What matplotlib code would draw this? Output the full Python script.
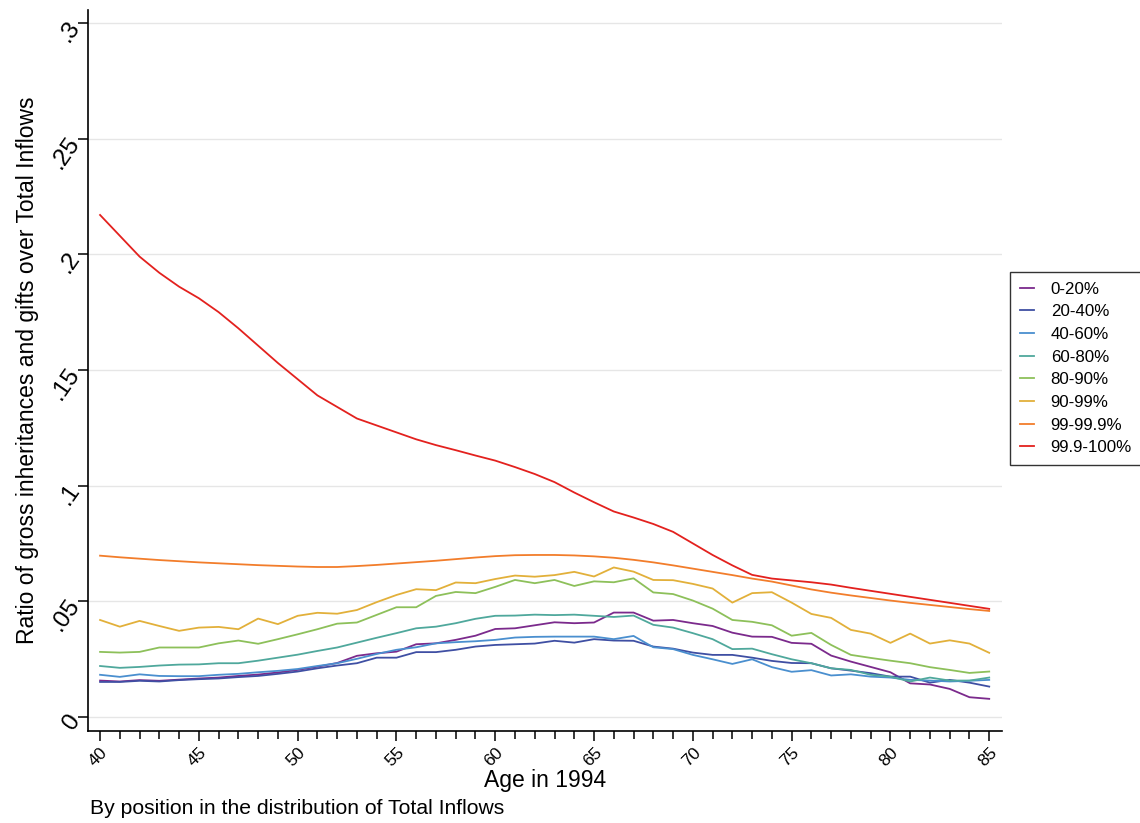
import matplotlib
matplotlib.use("Agg")
import matplotlib.pyplot as plt
from matplotlib.ticker import MultipleLocator

plt.rcParams['font.family'] = ['Liberation Sans', 'DejaVu Sans']

ages = list(range(40, 86))

groups = ["0-20%", "20-40%", "40-60%", "60-80%", "80-90%", "90-99%", "99-99.9%", "99.9-100%"]
colors = ["#7B2A8C", "#3F4FA3", "#4A8FCF", "#4FA89C", "#8DC05A", "#E2B03A", "#F27D2B", "#E3211E"]

p0_20 = [.0157, .0153, .0159, .0156, .0161, .0166, .0170, .0177, .0183, .0192,
         .0203, .0217, .0233, .0264, .0275, .0282, .0314, .0318, .0333, .0351,
         .0380, .0383, .0396, .0409, .0405, .0408, .0451, .0451, .0416, .0419,
         .0405, .0393, .0364, .0347, .0346, .0320, .0316, .0265, .0239, .0216,
         .0193, .0145, .0140, .0121, .0085, .0078]
p20_40 = [.0151, .0151, .0156, .0153, .0159, .0163, .0166, .0172, .0177, .0186,
          .0196, .0210, .0222, .0232, .0256, .0256, .0280, .0280, .0290, .0304,
          .0311, .0314, .0317, .0329, .0321, .0336, .0330, .0329, .0304, .0295,
          .0278, .0268, .0268, .0256, .0242, .0233, .0232, .0210, .0200, .0189,
          .0174, .0174, .0148, .0160, .0148, .0131]
p40_60 = [.0182, .0173, .0184, .0177, .0176, .0176, .0182, .0186, .0193, .0199,
          .0207, .0220, .0232, .0251, .0272, .0290, .0301, .0318, .0323, .0327,
          .0333, .0343, .0346, .0347, .0347, .0347, .0336, .0350, .0301, .0293,
          .0268, .0249, .0229, .0249, .0215, .0195, .0202, .0179, .0184, .0174,
          .0170, .0160, .0157, .0153, .0156, .0160]
p60_80 = [.0220, .0212, .0216, .0222, .0226, .0227, .0232, .0232, .0243, .0256,
          .0269, .0285, .0300, .0321, .0342, .0362, .0383, .0390, .0405, .0424,
          .0437, .0438, .0442, .0440, .0442, .0437, .0432, .0438, .0398, .0386,
          .0362, .0336, .0293, .0295, .0271, .0249, .0232, .0210, .0203, .0182,
          .0174, .0153, .0170, .0157, .0157, .0170]
p80_90 = [.0281, .0278, .0281, .0300, .0300, .0300, .0318, .0330, .0316, .0336,
          .0357, .0379, .0403, .0408, .0441, .0474, .0474, .0523, .0540, .0535,
          .0562, .0592, .0578, .0592, .0566, .0586, .0582, .0599, .0538, .0531,
          .0503, .0468, .0419, .0411, .0396, .0351, .0363, .0311, .0268, .0255,
          .0243, .0232, .0215, .0203, .0190, .0196]
p90_99 = [.0419, .0390, .0415, .0393, .0372, .0386, .0389, .0379, .0425, .0401,
          .0437, .0450, .0446, .0462, .0496, .0527, .0552, .0548, .0581, .0578,
          .0596, .0611, .0606, .0613, .0627, .0607, .0646, .0628, .0592, .0591,
          .0575, .0555, .0494, .0535, .0539, .0494, .0445, .0428, .0376, .0360,
          .0320, .0360, .0317, .0331, .0317, .0277]
p99_999 = [.0697, .0690, .0684, .0678, .0673, .0668, .0664, .0660, .0656, .0653,
           .0650, .0648, .0648, .0652, .0657, .0663, .0669, .0675, .0682, .0689,
           .0695, .0699, .0700, .0700, .0698, .0694, .0688, .0679, .0668, .0655,
           .0641, .0627, .0613, .0598, .0585, .0568, .0551, .0537, .0525, .0514,
           .0503, .0493, .0484, .0475, .0466, .0458]
p999_100 = [.2170, .2080, .1990, .1920, .1860, .1810, .1750, .1680, .1605, .1530,
            .1460, .1390, .1340, .1290, .1260, .1230, .1200, .1175, .1153, .1130,
            .1108, .1080, .1050, .1015, .0970, .0928, .0888, .0862, .0834, .0800,
            .0750, .0700, .0655, .0614, .0598, .0590, .0582, .0572, .0558, .0545,
            .0532, .0519, .0506, .0493, .0480, .0467]

series = [p0_20, p20_40, p40_60, p60_80, p80_90, p90_99, p99_999, p999_100]

y_ticks = [0, .05, .1, .15, .2, .25, .3]
y_tick_labels = ["0", ".05", ".1", ".15", ".2", ".25", ".3"]
x_ticks = list(range(40, 90, 5))

fig = plt.figure(figsize=(11.4, 8.23), dpi=100)
ax = fig.add_axes([0.0772, 0.1118, 0.8018, 0.876])

for ys, c, lab in zip(series, colors, groups):
    ax.plot(ages, ys, color=c, lw=1.3, label=lab, solid_joinstyle='round')

ax.set_xlim(39.39, 85.65)
ax.set_ylim(-0.0061, 0.3056)

ax.set_yticks(y_ticks)
ax.set_yticklabels(y_tick_labels, rotation=55, fontsize=17.5, va='center', ha='right',
                   rotation_mode='anchor')
ax.set_xticks(x_ticks)
ax.set_xticklabels([str(t) for t in x_ticks], rotation=45, fontsize=12.5, ha='right', va='top',
                   rotation_mode='anchor')
ax.xaxis.set_minor_locator(MultipleLocator(1))
ax.tick_params(axis='x', which='major', length=7, width=1.1, direction='out', pad=3)
ax.tick_params(axis='x', which='minor', length=6, width=1.1, direction='out')
ax.tick_params(axis='y', which='major', length=7, width=1.1, direction='out', pad=2)

ax.grid(axis='y', color='#e6e6e6', lw=1.0)
ax.set_axisbelow(True)
for side in ['top', 'right']:
    ax.spines[side].set_visible(False)
for side in ['left', 'bottom']:
    ax.spines[side].set_linewidth(1.2)
    ax.spines[side].set_color('black')

ax.set_ylabel("Ratio of gross inheritances and gifts over Total Inflows", fontsize=16.5, labelpad=6)
ax.set_xlabel("Age in 1994", fontsize=16.5, labelpad=0)
fig.text(0.079, 0.006, "By position in the distribution of Total Inflows", fontsize=15.2,
         ha='left', va='bottom')

leg = fig.legend(loc='upper left', bbox_to_anchor=(0.886, 0.670), fontsize=12.2, frameon=True,
                 fancybox=False, edgecolor='black', handlelength=0.8, handletextpad=1.0,
                 labelspacing=0.45, borderpad=0.6, borderaxespad=0)
leg.get_frame().set_linewidth(1.0)

fig.savefig("out.png", dpi=100)
